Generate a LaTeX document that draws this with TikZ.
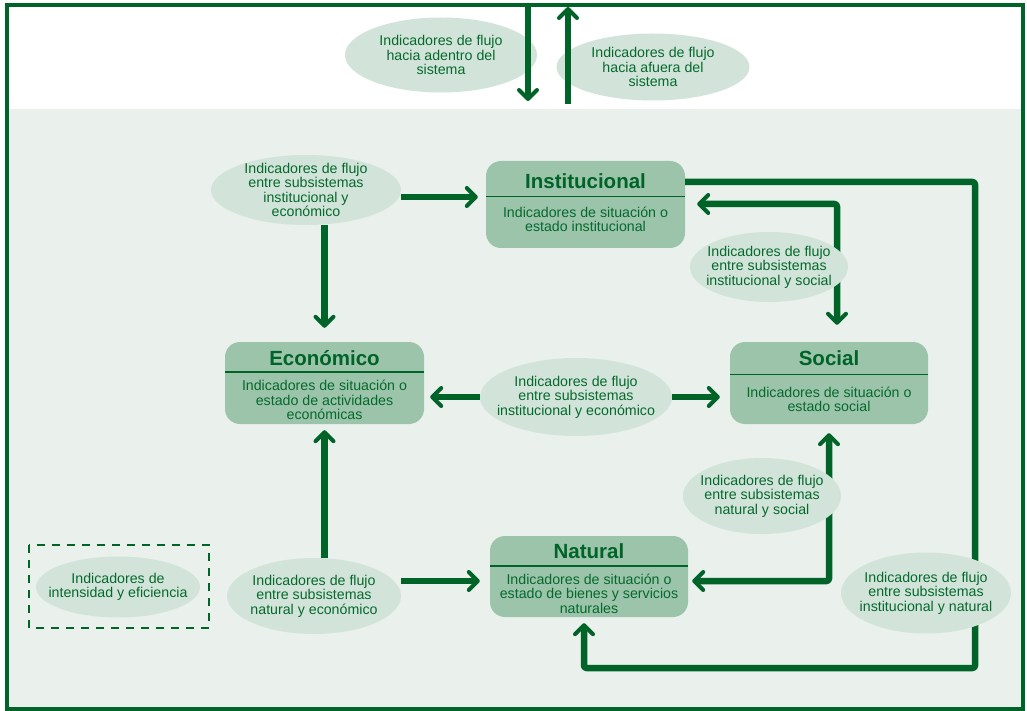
\documentclass[tikz,border=0pt]{standalone}
\usepackage{fontspec}
\setmainfont{Liberation Sans}
\usetikzlibrary{arrows.meta,shapes.geometric}
\definecolor{dkgreen}{RGB}{0,100,40}
\definecolor{txtgreen}{RGB}{5,105,45}
\definecolor{bgpanel}{RGB}{234,240,236}
\definecolor{ellfill}{RGB}{210,228,217}
\definecolor{boxfill}{RGB}{155,196,170}
\tikzset{
  subbox/.style={draw=none, fill=boxfill, rounded corners=15pt, inner sep=0pt},
  boxtitle/.style={font=\fontsize{20.5}{22}\selectfont\bfseries, text=dkgreen, inner sep=0pt},
  boxbody/.style={font=\fontsize{14.2}{14.5}\selectfont, text=txtgreen, align=center, inner sep=0pt},
  sepline/.style={draw=dkgreen, line width=1.4pt},
  flow/.style={ellipse, fill=ellfill, draw=none, inner xsep=-45pt, inner ysep=-25pt, align=center,
    font=\fontsize{14.2}{14.4}\selectfont, text=txtgreen},
  tipbarb/.tip={Straight Barb[length=9pt,width=18pt,line width=4pt,round]},
  conn/.style={draw=dkgreen, line width=6.5pt, line join=round, rounded corners=2.5pt},
  connarr/.style={conn, -tipbarb},
  connboth/.style={conn, tipbarb-tipbarb},
  frameline/.style={draw=dkgreen, line width=4pt},
}
\begin{document}
\begin{tikzpicture}[x=1pt,y=-1pt]
\useasboundingbox (0,0) rectangle (1027,711);
% background panels
\fill[white] (7,5) rectangle (1023,109);
\fill[bgpanel] (7,109) rectangle (1023,709);

% top ellipses
\node[flow, minimum width=192pt, minimum height=75pt] (ein) at (441,55)
  {Indicadores de flujo\\hacia adentro del\\sistema};
\node[flow, minimum width=193pt, minimum height=67pt] (eout) at (653,67)
  {Indicadores de flujo\\hacia afuera del\\sistema};

% top arrows
\coordinate (inTop) at (528,5);
\coordinate (inEnd) at (528,101);
\coordinate (outStart) at (568,104);
\coordinate (outTop) at (568,7);
\draw[connarr, rounded corners=0pt] (inTop) -- (inEnd);
\draw[connarr, rounded corners=0pt] (outStart) -- (outTop);

% frame
\draw[frameline] (7,5) rectangle (1023,709);

% subsystem boxes
\node[subbox, minimum width=199pt, minimum height=87pt] (inst) at (585.5,204.5) {};
\node[subbox, minimum width=199pt, minimum height=82pt] (eco) at (324.5,383) {};
\node[subbox, minimum width=198pt, minimum height=82pt] (soc) at (829,383) {};
\node[subbox, minimum width=198pt, minimum height=81pt] (nat) at (589,576.5) {};

\node[boxtitle] (instT) at (585.5,181.5) {Institucional};
\draw[sepline] (inst.west |- 0,196.5) -- (inst.east |- 0,196.5);
\node[boxbody] (instB) at (585.5,219.5) {Indicadores de situación o\\estado institucional};

\node[boxtitle] (ecoT) at (324.5,358.5) {Económico};
\draw[sepline] (eco.west |- 0,372) -- (eco.east |- 0,372);
\node[boxbody] (ecoB) at (324.5,400) {Indicadores de situación o\\estado de actividades\\económicas};

\node[boxtitle] (socT) at (829,358.5) {Social};
\draw[sepline] (soc.west |- 0,374.5) -- (soc.east |- 0,374.5);
\node[boxbody] (socB) at (829,399.5) {Indicadores de situación o\\estado social};

\node[boxtitle] (natT) at (589,551.5) {Natural};
\draw[sepline] (nat.west |- 0,566) -- (nat.east |- 0,566);
\node[boxbody] (natB) at (589,593.5) {Indicadores de situación o\\estado de bienes y servicios\\naturales};

% connectors drawn behind flow ellipses
\coordinate (loopA) at (975,182);
\coordinate (loopB) at (975,668);
\coordinate (loopC) at (584,668);
\draw[connarr, shorten >=6pt] (inst.east |- loopA) -- (loopA) -- (loopB) -- (loopC) -- (loopC |- nat.south);

\coordinate (isC) at (837,204);
\draw[connboth, shorten <=12pt, shorten >=17pt] (inst.east |- isC) -- (isC) -- (isC |- soc.north);

\coordinate (nsC) at (829,581);
\draw[connboth, shorten <=4pt, shorten >=9pt] (nat.east |- nsC) -- (nsC) -- (nsC |- soc.south);

% flow ellipses
\node[flow, minimum width=190pt, minimum height=70pt] (eie) at (306,190)
  {Indicadores de flujo\\entre subsistemas\\institucional y\\económico};
\node[flow, minimum width=158pt, minimum height=70pt] (eis) at (769,267)
  {Indicadores de flujo\\entre subsistemas\\institucional y social};
\node[flow, minimum width=192pt, minimum height=78pt] (emid) at (576,397)
  {Indicadores de flujo\\entre subsistemas\\institucional y económico};
\node[flow, minimum width=158pt, minimum height=76pt] (ens) at (762,496)
  {Indicadores de flujo\\entre subsistemas\\natural y social};
\node[flow, minimum width=174pt, minimum height=76pt] (ene) at (314,596)
  {Indicadores de flujo\\entre subsistemas\\natural y económico};
\node[flow, minimum width=170pt, minimum height=81pt] (ein2) at (926,593)
  {Indicadores de flujo\\entre subsistemas\\institucional y natural};
\node[flow, minimum width=164pt, minimum height=61pt] (eint) at (118,587)
  {Indicadores de\\intensidad y eficiencia};

% dashed frame
\draw[dkgreen, line width=2.5pt, dash pattern=on 8pt off 7pt] (29,545) rectangle (209,628);

% arrows from flow ellipses
\draw[connarr, shorten >=8pt] ([yshift=-7pt]eie.east) -- ([yshift=-7pt]eie.east -| inst.west);
\draw[connarr, shorten >=14pt] (eco.north |- eie.south) -- (eco.north);
\draw[connarr, shorten >=6pt] (emid.west) -- (emid.west -| eco.east);
\draw[connarr, shorten >=10pt] (emid.east) -- (emid.east -| soc.west);
\draw[connarr, shorten >=6pt] (eco.south |- ene.north) -- (eco.south);
\draw[connarr, shorten >=10pt] ([yshift=15pt]ene.east) -- ([yshift=15pt]ene.east -| nat.west);
\end{tikzpicture}
\end{document}
